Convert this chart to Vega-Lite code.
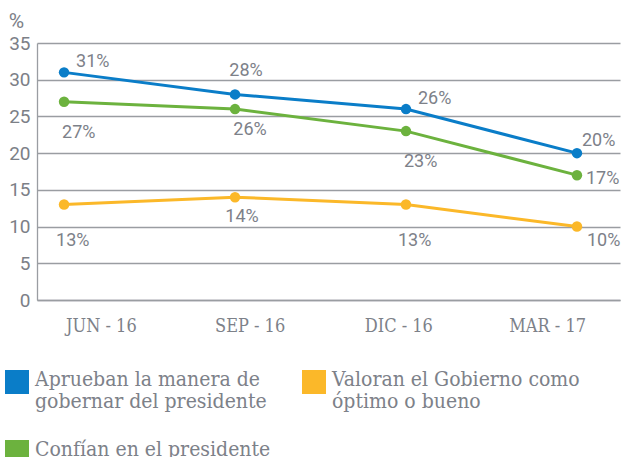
{
  "$schema": "https://vega.github.io/schema/vega-lite/v6.json",
  "width": 583,
  "height": 257,
  "autosize": {"type": "none"},
  "padding": {"left": 37, "top": 43, "right": 3, "bottom": 157},
  "background": "white",
  "config": {
    "view": {"stroke": null},
    "axis": {"gridColor": "#9a9da2", "gridWidth": 1.3, "domainColor": "#9a9da2", "domainWidth": 1.3, "ticks": false, "tickSize": 0}
  },
  "data": {
    "values": [
      {"periodo": "JUN - 16", "serie": "Aprueban la manera de gobernar del presidente", "valor": 31},
      {"periodo": "SEP - 16", "serie": "Aprueban la manera de gobernar del presidente", "valor": 28},
      {"periodo": "DIC - 16", "serie": "Aprueban la manera de gobernar del presidente", "valor": 26},
      {"periodo": "MAR - 17", "serie": "Aprueban la manera de gobernar del presidente", "valor": 20},
      {"periodo": "JUN - 16", "serie": "Confían en el presidente", "valor": 27},
      {"periodo": "SEP - 16", "serie": "Confían en el presidente", "valor": 26},
      {"periodo": "DIC - 16", "serie": "Confían en el presidente", "valor": 23},
      {"periodo": "MAR - 17", "serie": "Confían en el presidente", "valor": 17},
      {"periodo": "JUN - 16", "serie": "Valoran el Gobierno como óptimo o bueno", "valor": 13},
      {"periodo": "SEP - 16", "serie": "Valoran el Gobierno como óptimo o bueno", "valor": 14},
      {"periodo": "DIC - 16", "serie": "Valoran el Gobierno como óptimo o bueno", "valor": 13},
      {"periodo": "MAR - 17", "serie": "Valoran el Gobierno como óptimo o bueno", "valor": 10}
    ]
  },
  "transform": [{"calculate": "datum.valor + '%'", "as": "etiqueta"}],
  "resolve": {"scale": {"x": "independent"}, "axis": {"x": "independent"}},
  "layer": [
    {
      "encoding": {
        "x": {
          "field": "periodo", "type": "ordinal",
          "sort": ["JUN - 16", "SEP - 16", "DIC - 16", "MAR - 17"],
          "scale": {"type": "point", "padding": 0.205, "align": 0.386},
          "axis": {"orient": "bottom", "title": null, "labels": false, "grid": false, "domain": true}
        },
        "y": {
          "field": "valor", "type": "quantitative",
          "scale": {"domain": [0, 35], "nice": false},
          "axis": {"values": [0, 5, 10, 15, 20, 25, 30, 35], "grid": true, "domain": true, "labelFont": "Roboto", "labelFontSize": 19, "labelColor": "#7c8087", "labelPadding": 7,
            "title": "%", "titleAngle": 0, "titleX": -21, "titleY": -22, "titleAlign": "center", "titleBaseline": "middle", "titleFont": "Roboto", "titleFontSize": 21, "titleFontWeight": "normal", "titleColor": "#7c8087"}
        }
      },
      "layer": [
        {
          "mark": {"type": "line", "strokeWidth": 3, "point": {"filled": true, "size": 110, "opacity": 1}},
          "encoding": {"color": {"field": "serie", "type": "nominal",
            "sort": ["Aprueban la manera de gobernar del presidente", "Valoran el Gobierno como óptimo o bueno", "Confían en el presidente"],
            "scale": {"domain": ["Aprueban la manera de gobernar del presidente", "Valoran el Gobierno como óptimo o bueno", "Confían en el presidente"], "range": ["#0a7dc8", "#fbb829", "#6cb23e"]},
            "legend": {"orient": "none", "direction": "horizontal", "legendX": -32, "legendY": 327, "title": null, "columns": 2, "gridAlign": "each", "columnPadding": 31, "rowPadding": 27,
              "values": ["Aprueban la manera de gobernar del presidente", "Valoran el Gobierno como óptimo o bueno", "Confían en el presidente"],
              "symbolType": "square", "symbolSize": 576, "symbolStrokeWidth": 0, "symbolOpacity": 1, "labelOffset": 6,
              "labelFont": "DejaVu Serif Condensed", "labelFontSize": 21, "labelColor": "#7d8189", "labelLimit": 400, "labelBaseline": "top",
              "labelExpr": "datum.label == 'Aprueban la manera de gobernar del presidente' ? ['Aprueban la manera de', 'gobernar del presidente'] : datum.label == 'Valoran el Gobierno como óptimo o bueno' ? ['Valoran el Gobierno como', 'óptimo o bueno'] : datum.label",
              "encode": {
                "symbols": {"update": {"fill": {"scale": "color", "field": "value"}, "strokeWidth": {"value": 0}}},
                "labels": {"update": {"dy": {"value": -13}, "lineHeight": {"value": 22}}}
              }}}}
        },
        {
          "transform": [{"filter": "datum.serie == 'Aprueban la manera de gobernar del presidente' && (datum.periodo == 'JUN - 16' || datum.periodo == 'DIC - 16')"}],
          "mark": {"type": "text", "align": "left", "baseline": "middle", "dx": 12, "dy": -10, "font": "Roboto", "fontSize": 18, "color": "#7d8189"},
          "encoding": {"text": {"field": "etiqueta"}}
        },
        {
          "transform": [{"filter": "datum.serie == 'Aprueban la manera de gobernar del presidente' && datum.periodo == 'SEP - 16'"}],
          "mark": {"type": "text", "align": "center", "baseline": "middle", "dx": 11, "dy": -23, "font": "Roboto", "fontSize": 18, "color": "#7d8189"},
          "encoding": {"text": {"field": "etiqueta"}}
        },
        {
          "transform": [{"filter": "datum.serie == 'Aprueban la manera de gobernar del presidente' && datum.periodo == 'MAR - 17'"}],
          "mark": {"type": "text", "align": "left", "baseline": "middle", "dx": 5, "dy": -12, "font": "Roboto", "fontSize": 18, "color": "#7d8189"},
          "encoding": {"text": {"field": "etiqueta"}}
        },
        {
          "transform": [{"filter": "datum.serie == 'Confían en el presidente' && (datum.periodo == 'JUN - 16' || datum.periodo == 'DIC - 16')"}],
          "mark": {"type": "text", "align": "left", "baseline": "middle", "dx": -2, "dy": 31, "font": "Roboto", "fontSize": 18, "color": "#7d8189"},
          "encoding": {"text": {"field": "etiqueta"}}
        },
        {
          "transform": [{"filter": "datum.serie == 'Confían en el presidente' && datum.periodo == 'SEP - 16'"}],
          "mark": {"type": "text", "align": "center", "baseline": "middle", "dx": 15, "dy": 21, "font": "Roboto", "fontSize": 18, "color": "#7d8189"},
          "encoding": {"text": {"field": "etiqueta"}}
        },
        {
          "transform": [{"filter": "datum.serie == 'Confían en el presidente' && datum.periodo == 'MAR - 17'"}],
          "mark": {"type": "text", "align": "left", "baseline": "middle", "dx": 9, "dy": 4, "font": "Roboto", "fontSize": 18, "color": "#7d8189"},
          "encoding": {"text": {"field": "etiqueta"}}
        },
        {
          "transform": [{"filter": "datum.serie == 'Valoran el Gobierno como óptimo o bueno' && (datum.periodo == 'JUN - 16' || datum.periodo == 'DIC - 16')"}],
          "mark": {"type": "text", "align": "left", "baseline": "middle", "dx": -8, "dy": 36, "font": "Roboto", "fontSize": 18, "color": "#7d8189"},
          "encoding": {"text": {"field": "etiqueta"}}
        },
        {
          "transform": [{"filter": "datum.serie == 'Valoran el Gobierno como óptimo o bueno' && datum.periodo == 'SEP - 16'"}],
          "mark": {"type": "text", "align": "center", "baseline": "middle", "dx": 7, "dy": 20, "font": "Roboto", "fontSize": 18, "color": "#7d8189"},
          "encoding": {"text": {"field": "etiqueta"}}
        },
        {
          "transform": [{"filter": "datum.serie == 'Valoran el Gobierno como óptimo o bueno' && datum.periodo == 'MAR - 17'"}],
          "mark": {"type": "text", "align": "left", "baseline": "middle", "dx": 10, "dy": 14, "font": "Roboto", "fontSize": 18, "color": "#7d8189"},
          "encoding": {"text": {"field": "etiqueta"}}
        }
      ]
    },
    {
      "mark": {"type": "point", "opacity": 0},
      "encoding": {
        "x": {
          "field": "periodo", "type": "ordinal",
          "sort": ["JUN - 16", "SEP - 16", "DIC - 16", "MAR - 17"],
          "scale": {"type": "point", "padding": 0.46, "align": 0.467},
          "axis": {"orient": "bottom", "title": null, "labelAngle": 0, "grid": false, "domain": false, "labelFont": "DejaVu Serif Condensed", "labelFontSize": 18, "labelColor": "#7d8189", "labelPadding": 17}
        }
      }
    }
  ]
}
